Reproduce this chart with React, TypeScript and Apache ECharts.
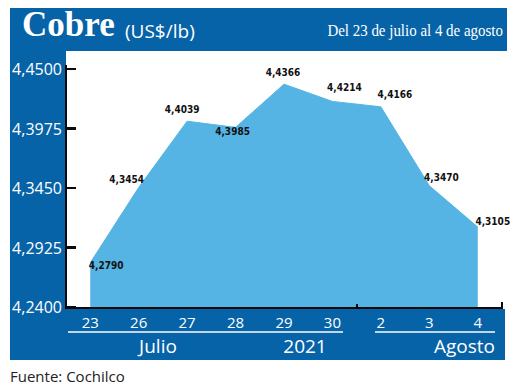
import React, { useEffect, useRef } from "react";
import * as echarts from "echarts";

const days = ["23", "26", "27", "28", "29", "30", "2", "3", "4"];
const prices = [4.279, 4.3454, 4.4039, 4.3985, 4.4366, 4.4214, 4.4166, 4.347, 4.3105];
const yTicks = [4.24, 4.2925, 4.345, 4.3975, 4.45];
const monthLabels = ["Julio", "2021", "Agosto"];

const FRAME = "#0763a7";
const AREA = "#55b4e3";

export default function App() {
  const ref = useRef<HTMLDivElement>(null);
  const overlayRef = useRef<HTMLDivElement>(null);
  useEffect(() => {
    if (!ref.current) return;
    const chart = echarts.init(ref.current, undefined, { renderer: "svg" });
    const fmt = (v: number) => v.toFixed(4).replace(".", ",");
    const offs: number[][] = [
      [16, 3], [-12, -8], [-5, -12], [-3, 4], [-1, -12], [12, -14], [14, -12], [12, -8], [15, -6],
    ];
    const seriesData = prices.map((v, i) => ({
      value: v,
      label: { offset: offs[i] },
    }));
    const yMin = yTicks[0];
    const yMax = yTicks[yTicks.length - 1];
    chart.setOption({
      animation: false,
      graphic: [
        {
          type: "text", x: 22, y: 42,
          style: { text: "Cobre", fill: "#fff", font: "bold 35px 'Liberation Serif'", textVerticalAlign: "bottom" },
        },
        {
          type: "text", x: 125, y: 40,
          style: { text: "(US$/lb)", fill: "#fff", font: "19px 'Open Sans'", textVerticalAlign: "bottom" },
        },
        {
          type: "text", x: 503, y: 39, scaleX: 0.88,
          style: { text: "Del 23 de julio al 4 de agosto", fill: "#fff", font: "17px 'Liberation Serif'", textAlign: "right", textVerticalAlign: "bottom" },
        },
        { type: "rect", shape: { x: 68, y: 331.25, width: 275, height: 1.5 }, style: { fill: "#fff" } },
        { type: "rect", shape: { x: 375, y: 331.25, width: 120, height: 1.5 }, style: { fill: "#fff" } },
        {
          type: "text", x: 158, y: 346,
          style: { text: monthLabels[0], fill: "#fff", font: "19px 'Open Sans'", textAlign: "center", textVerticalAlign: "middle" },
        },
        {
          type: "text", x: 305, y: 346,
          style: { text: monthLabels[1], fill: "#fff", font: "19px 'Open Sans'", textAlign: "center", textVerticalAlign: "middle" },
        },
        {
          type: "text", x: 495, y: 346,
          style: { text: monthLabels[2], fill: "#fff", font: "19px 'Open Sans'", textAlign: "right", textVerticalAlign: "middle" },
        },
        {
          type: "text", x: 10, y: 376,
          style: { text: "Fuente: Cochilco", fill: "#222", font: "15px 'Open Sans'", textVerticalAlign: "middle" },
        },
      ],
      grid: { left: 66, right: 18, top: 69, bottom: 79, show: false },
      xAxis: {
        type: "category",
        data: days,
        boundaryGap: true,
        axisLine: { show: false },
        axisTick: { show: false },
        axisLabel: { color: "#fff", fontSize: 15, fontFamily: "Open Sans", margin: 7 },
      },
      yAxis: {
        type: "value",
        min: yMin,
        max: yMax,
        splitLine: { show: false },
        axisLine: { show: false },
        axisTick: { show: false },
        axisLabel: {
          color: "#fff", fontSize: 16, fontFamily: "Open Sans", margin: 4,
          customValues: yTicks, formatter: (v: number) => fmt(v),
        },
      },
      series: [
        {
          type: "line",
          data: seriesData,
          symbol: "circle",
          symbolSize: 1,
          showSymbol: true,
          itemStyle: { color: "rgba(0,0,0,0)" },
          lineStyle: { color: AREA, width: 1 },
          areaStyle: { color: AREA, opacity: 1, origin: "start" },
          label: {
            show: true,
            position: "inside",
            color: "#111",
            fontSize: 10,
            fontWeight: "bold",
            fontFamily: "'Liberation Sans Narrow', 'DejaVu Sans Condensed', sans-serif",
            formatter: (p: any) => fmt(p.value),
          },
        },
      ],
    });

    // axis lines and ticks, positioned through the chart's own scales
    const overlay = overlayRef.current;
    const made: HTMLDivElement[] = [];
    if (overlay) {
      const px = (i: number, v: number) =>
        chart.convertToPixel({ xAxisIndex: 0, yAxisIndex: 0 }, [i, v]) as number[];
      const last = days.length - 1;
      const c0 = px(0, yMin);
      const c1 = px(1, yMin);
      const cl = px(last, yMin);
      const bw = c1[0] - c0[0];
      const x0 = c0[0] - bw / 2;
      const xEnd = cl[0] + bw / 2;
      const yBot = c0[1];
      const yTop = px(0, yMax)[1];
      const xSep = (px(5, yMin)[0] + px(6, yMin)[0]) / 2;
      const add = (l: number, t: number, w: number, h: number) => {
        const d = document.createElement("div");
        Object.assign(d.style, {
          position: "absolute",
          left: l + "px",
          top: t + "px",
          width: w + "px",
          height: h + "px",
          background: "#0a0a0a",
        });
        overlay.appendChild(d);
        made.push(d);
      };
      add(x0 - 1.5, yTop - 4, 2.5, yBot - yTop + 6);
      add(x0 - 1.5, yBot - 0.5, xEnd - x0 + 2.5, 2);
      yTicks.forEach((v) => add(x0, px(0, v)[1] - 1.25, 10, 2.5));
      add(xSep - 1, yBot - 3, 2, 3);
      add(xEnd - 1, yBot - 5, 2, 6.5);
    }
    return () => {
      made.forEach((d) => d.remove());
      chart.dispose();
    };
  }, []);
  const box = (l: number, t: number, w: number, h: number): React.CSSProperties => ({
    position: "absolute", left: l, top: t, width: w, height: h, background: FRAME,
  });
  return (
    <div style={{ position: "fixed", left: 0, top: 0, width: 520, height: 386, background: "#fff" }}>
      <div style={box(10, 8, 497, 43)} />
      <div style={box(10, 8, 56, 352)} />
      <div style={box(10, 309, 495, 51)} />
      <div ref={ref} style={{ position: "absolute", left: 0, top: 0, width: 520, height: 386, zIndex: 2 }} />
      <div
        ref={overlayRef}
        style={{ position: "absolute", left: 0, top: 0, width: 520, height: 386, zIndex: 3, pointerEvents: "none" }}
      />
    </div>
  );
}
